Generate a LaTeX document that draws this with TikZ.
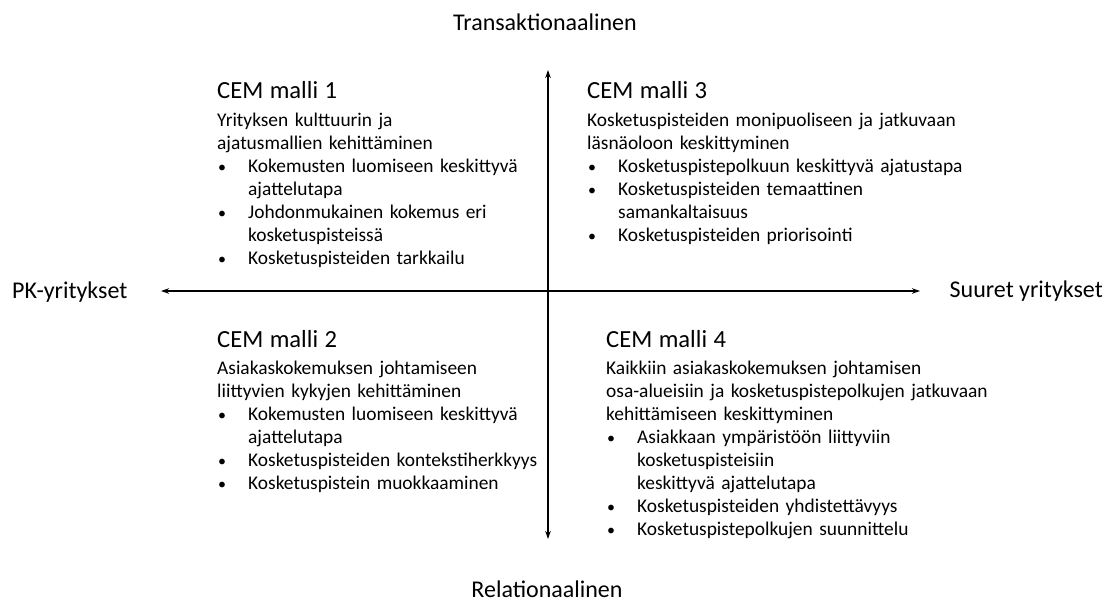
\documentclass[tikz,border=0pt]{standalone}
\usepackage{fontspec}
\setmainfont{Carlito}
\usetikzlibrary{positioning, arrows.meta}

\setlength{\parindent}{0pt}
\setlength{\parskip}{0pt}

% line break that keeps the paragraph (and its hanging indent)
\newcommand{\rv}{\hfill\break}
% bullet line with hanging indent
\newcommand{\kohta}[1]{\par\hangindent=31pt\hangafter=1\noindent
  \makebox[31pt][l]{\hspace{1pt}{\fontsize{16}{16}\selectfont\textbullet}}#1}
\newcommand{\otsikko}[1]{{\fontsize{24.6}{28}\selectfont\rule{0pt}{20pt}#1\par}\vspace{4.5pt}}

\begin{document}
\begin{tikzpicture}[x=1pt,y=-1pt,>={Stealth[length=8pt,width=5.5pt]},
  akseli/.style={line width=1.2pt,<->},
  lohko/.style={anchor=north west,inner sep=0pt,align=left,text width=460pt,
    font=\fontsize{19.4}{23}\selectfont},
  suunta/.style={inner sep=0pt,font=\fontsize{24}{28}\selectfont}]
  \useasboundingbox (0,0) rectangle (1110,603);

  % axes
  \coordinate (vasen) at (161,291);
  \coordinate (oikea) at (920,291);
  \coordinate (yla) at (548,70);
  \coordinate (ala) at (548,539);
  \draw[akseli] (vasen) -- (oikea);
  \draw[akseli] (yla) -- (ala);

  \node[suunta,anchor=base] (trans) at (545,30) {Transaktionaalinen};
  \node[suunta,anchor=base] (rel) at (547,597) {Relationaalinen};
  \node[suunta,anchor=base west] (pk) at (12,298) {PK-yritykset};
  \node[suunta,anchor=base east] (suuret) at (1103,297) {Suuret yritykset};

  % quadrants
  \node[lohko] (malli1) at (217,78.5) {%
    \otsikko{CEM malli 1}
    Yrityksen kulttuurin ja\rv ajatusmallien kehittäminen
    \kohta{Kokemusten luomiseen keskittyvä\rv ajattelutapa}
    \kohta{Johdonmukainen kokemus eri\rv kosketuspisteissä}
    \kohta{Kosketuspisteiden tarkkailu}};

  \node[lohko] (malli3) at (587,78.5) {%
    \otsikko{CEM malli 3}
    Kosketuspisteiden monipuoliseen ja jatkuvaan\rv läsnäoloon keskittyminen
    \kohta{Kosketuspistepolkuun keskittyvä ajatustapa}
    \kohta{Kosketuspisteiden temaattinen\rv samankaltaisuus}
    \kohta{Kosketuspisteiden priorisointi}};

  \node[lohko] (malli2) at (217,327) {%
    \otsikko{CEM malli 2}
    Asiakaskokemuksen johtamiseen\rv liittyvien kykyjen kehittäminen
    \kohta{Kokemusten luomiseen keskittyvä\rv ajattelutapa}
    \kohta{Kosketuspisteiden kontekstiherkkyys}
    \kohta{Kosketuspistein muokkaaminen}};

  \node[lohko] (malli4) at (606,327) {%
    \otsikko{CEM malli 4}
    Kaikkiin asiakaskokemuksen johtamisen\rv osa-alueisiin ja kosketuspistepolkujen jatkuvaan\rv kehittämiseen keskittyminen
    \kohta{Asiakkaan ympäristöön liittyviin\rv kosketuspisteisiin\rv keskittyvä ajattelutapa}
    \kohta{Kosketuspisteiden yhdistettävyys}
    \kohta{Kosketuspistepolkujen suunnittelu}};
\end{tikzpicture}
\end{document}
